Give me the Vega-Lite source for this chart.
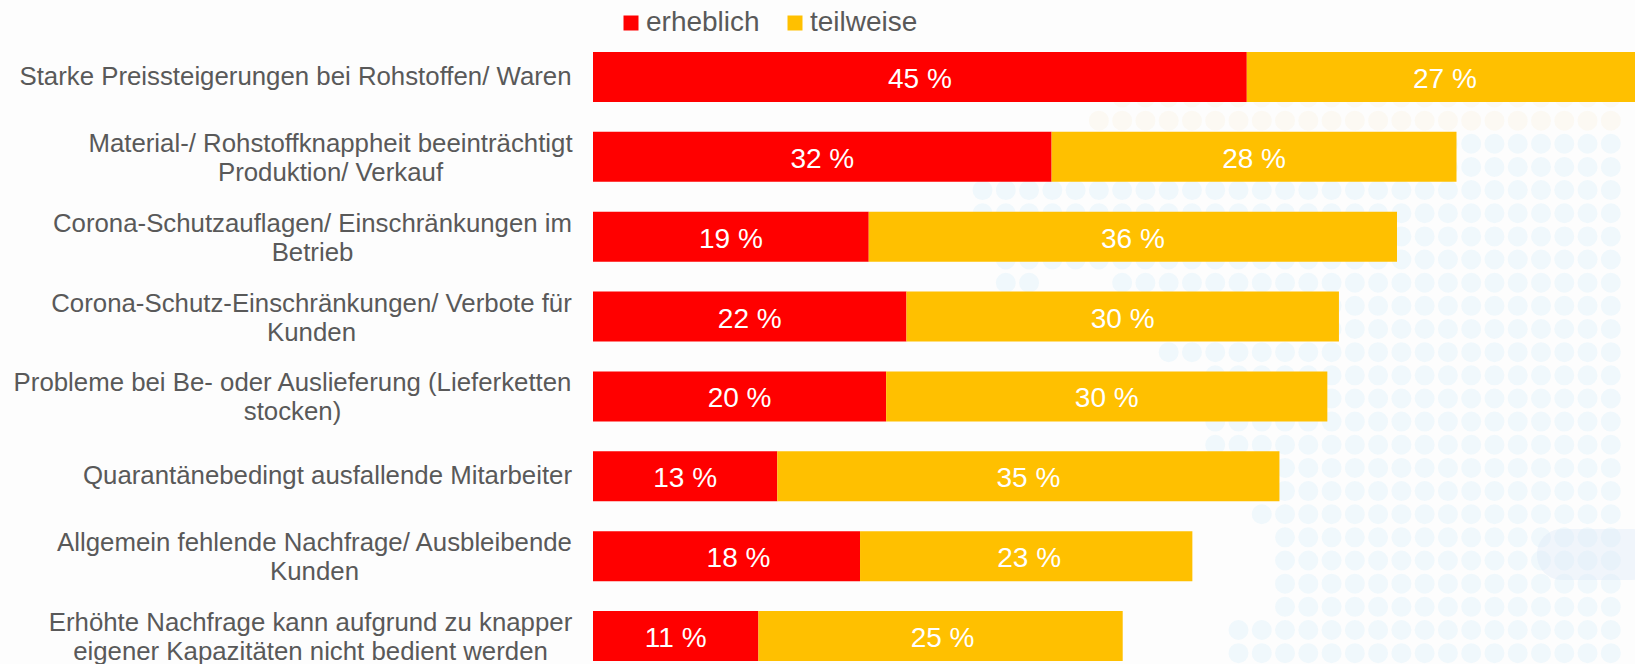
{
"$schema":"https://vega.github.io/schema/vega-lite/v6.json",
"width":1042,"height":609,
"autosize":"none",
"padding":{"left":593,"top":52,"right":0,"bottom":3},
"background":"#fdfdfd",
"config":{"view":{"stroke":null},"font":"Liberation Sans"},
"resolve":{"scale":{"x":"independent","y":"independent"},"axis":{"x":"independent","y":"independent"}},
"layer":[
{"data":{"values":[
{"row":0,"from":-7,"to":15},{"row":1,"from":-8,"to":15},{"row":2,"from":-8,"to":15},{"row":3,"from":-13,"to":15},{"row":4,"from":-13,"to":15},{"row":5,"from":-13,"to":15},{"row":6,"from":-13,"to":15},{"row":7,"from":-12,"to":15},{"row":8,"from":-12,"to":-10},{"row":8,"from":-7,"to":15},{"row":9,"from":-7,"to":15},{"row":10,"from":-7,"to":15},{"row":11,"from":-5,"to":15},{"row":12,"from":-3,"to":15},{"row":13,"from":-3,"to":15},{"row":14,"from":-3,"to":15},{"row":15,"from":-3,"to":15},{"row":16,"from":-1,"to":15},{"row":17,"from":-1,"to":15},{"row":18,"from":-1,"to":15},{"row":19,"from":0,"to":15},{"row":20,"from":0,"to":15},{"row":21,"from":0,"to":15},{"row":22,"from":0,"to":15},{"row":23,"from":-2,"to":15},{"row":24,"from":-2,"to":15}]},
"mark":{"type":"rule","strokeWidth":20,"strokeCap":"round","strokeDash":[0,23.27],"clip":false},
"encoding":{
"x":{"field":"from","type":"quantitative","axis":null,"scale":{"domain":[-29.74,15.04],"nice":false,"zero":false}},
"x2":{"field":"to"},
"y":{"field":"row","type":"quantitative","axis":null,"scale":{"domain":[-1.965,24.34],"nice":false,"zero":false,"reverse":true}},
"color":{"condition":{"test":"datum.row<2","value":"#fcf9f3"},"value":"#f0f8fc"}
}},
{"data":{"values":[{"x0":10.83,"x1":16,"y0":18.64,"y1":20.84}]},
"mark":{"type":"rect","cornerRadius":25,"fill":"#dce8f7","opacity":0.4,"clip":false},
"encoding":{
"x":{"field":"x0","type":"quantitative","axis":null,"scale":{"domain":[-29.74,15.04],"nice":false,"zero":false}},
"x2":{"field":"x1"},
"y":{"field":"y0","type":"quantitative","axis":null,"scale":{"domain":[-1.965,24.34],"nice":false,"zero":false,"reverse":true}},
"y2":{"field":"y1"}
}},
{"data":{"values":[
{"problem":"Starke Preissteigerungen bei Rohstoffen/ Waren","series":"erheblich","value":45.05,"label":"45 %"},
{"problem":"Starke Preissteigerungen bei Rohstoffen/ Waren","series":"teilweise","value":26.75,"label":"27 %"},
{"problem":"Material-/ Rohstoffknappheit beeinträchtigt|Produktion/ Verkauf","series":"erheblich","value":31.6,"label":"32 %"},
{"problem":"Material-/ Rohstoffknappheit beeinträchtigt|Produktion/ Verkauf","series":"teilweise","value":27.9,"label":"28 %"},
{"problem":"Corona-Schutzauflagen/ Einschränkungen im|Betrieb","series":"erheblich","value":19.0,"label":"19 %"},
{"problem":"Corona-Schutzauflagen/ Einschränkungen im|Betrieb","series":"teilweise","value":36.4,"label":"36 %"},
{"problem":"Corona-Schutz-Einschränkungen/ Verbote für|Kunden","series":"erheblich","value":21.6,"label":"22 %"},
{"problem":"Corona-Schutz-Einschränkungen/ Verbote für|Kunden","series":"teilweise","value":29.8,"label":"30 %"},
{"problem":"Probleme bei Be- oder Auslieferung (Lieferketten|stocken)","series":"erheblich","value":20.2,"label":"20 %"},
{"problem":"Probleme bei Be- oder Auslieferung (Lieferketten|stocken)","series":"teilweise","value":30.4,"label":"30 %"},
{"problem":"Quarantänebedingt ausfallende Mitarbeiter","series":"erheblich","value":12.7,"label":"13 %"},
{"problem":"Quarantänebedingt ausfallende Mitarbeiter","series":"teilweise","value":34.6,"label":"35 %"},
{"problem":"Allgemein fehlende Nachfrage/ Ausbleibende|Kunden","series":"erheblich","value":18.4,"label":"18 %"},
{"problem":"Allgemein fehlende Nachfrage/ Ausbleibende|Kunden","series":"teilweise","value":22.9,"label":"23 %"},
{"problem":"Erhöhte Nachfrage kann aufgrund zu knapper|eigener Kapazitäten nicht bedient werden","series":"erheblich","value":11.4,"label":"11 %"},
{"problem":"Erhöhte Nachfrage kann aufgrund zu knapper|eigener Kapazitäten nicht bedient werden","series":"teilweise","value":25.1,"label":"25 %"}
]},
"encoding":{
"y":{"field":"problem","type":"nominal","sort":null,"title":null,
"scale":{"paddingInner":0.375,"paddingOuter":0},
"axis":{"domain":false,"ticks":false,"grid":false,"labelPadding":0,"labelLimit":800,"labelAlign":"center","labelBaseline":"middle","labelFontSize":25.8,"labelColor":"#595959","labelFont":"Liberation Sans","labelLineHeight":29,"labelExpr":"split(datum.label,'|')",
"encoding":{"labels":{
"dx":{"value":{"expr":"{'Starke Preisst':-298,'Material-/ Roh':-263,'Corona-Schutza':-281,'Corona-Schutz-':-282,'Probleme bei B':-301,'Quarantänebedi':-266,'Allgemein fehl':-279,'Erhöhte Nachfr':-283}[substring(datum.value,0,14)]"}},
"dy":{"value":{"expr":"indexof(datum.value,'|')>=0?-13:0"}}}}}},
"x":{"field":"value","type":"quantitative","stack":"zero","axis":null,"scale":{"domain":[0,71.8],"nice":false,"zero":true}}
},
"layer":[
{"mark":{"type":"bar","clip":false},
"encoding":{"color":{"field":"series","type":"nominal","title":null,
"scale":{"domain":["erheblich","teilweise"],"range":["#ff0000","#ffc000"]},
"legend":{"orient":"none","legendX":24,"legendY":-43,"direction":"horizontal","columns":2,"symbolType":"square","symbolSize":225,"symbolStrokeWidth":0,"labelFontSize":28,"labelFont":"Liberation Sans","labelColor":"#595959","labelOffset":1,"columnPadding":21,"padding":0}},
"order":{"field":"series"}}},
{"mark":{"type":"text","color":"#ffffff","fontSize":28,"font":"Liberation Sans","baseline":"middle","align":"center","dy":3,
"dx":{"expr":"datum.label=='18 %'?12:datum.label=='27 %'?4:datum.label=='23 %'?3:datum.label=='25 %'?2:0"}},
"encoding":{"x":{"field":"value","type":"quantitative","stack":"zero","bandPosition":0.5,"axis":null,"scale":{"domain":[0,71.8],"nice":false,"zero":true}},
"text":{"field":"label","type":"nominal"},"detail":{"field":"series"},"order":{"field":"series"}}}
]}
]
}
